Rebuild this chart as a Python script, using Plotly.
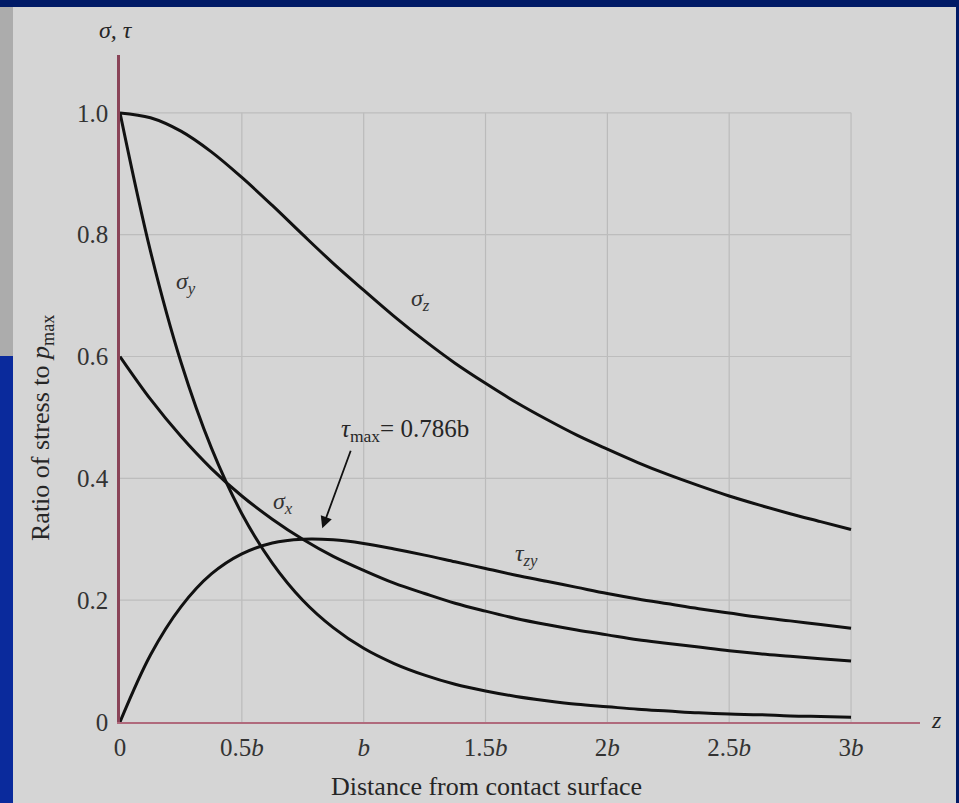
import plotly.graph_objects as go

# ---- data (z in units of b, stress ratio to p_max) ----
z_vals = [0, 0.125, 0.25, 0.375, 0.5, 0.625, 0.75, 0.875, 1.0, 1.125, 1.25, 1.375, 1.5,
          1.625, 1.75, 1.875, 2.0, 2.125, 2.25, 2.375, 2.5, 2.625, 2.75, 2.875, 3.0]
sigma_z = [1.0, 0.992, 0.970, 0.936, 0.894, 0.848, 0.800, 0.753, 0.709, 0.666, 0.626,
           0.589, 0.556, 0.525, 0.497, 0.471, 0.448, 0.426, 0.406, 0.388, 0.371, 0.356,
           0.342, 0.329, 0.316]
sigma_y = [1.0, 0.773, 0.591, 0.450, 0.342, 0.261, 0.200, 0.155, 0.121, 0.096, 0.077,
           0.062, 0.051, 0.042, 0.035, 0.029, 0.025, 0.021, 0.018, 0.015, 0.013, 0.012,
           0.010, 0.009, 0.008]
sigma_x = [0.6, 0.530, 0.469, 0.416, 0.371, 0.333, 0.300, 0.272, 0.249, 0.228, 0.211,
           0.195, 0.182, 0.170, 0.160, 0.151, 0.143, 0.135, 0.129, 0.123, 0.117, 0.112,
           0.108, 0.104, 0.100]
tau_zy = [0.0, 0.110, 0.189, 0.243, 0.276, 0.294, 0.300, 0.299, 0.293, 0.284, 0.274,
          0.263, 0.252, 0.241, 0.231, 0.221, 0.211, 0.202, 0.194, 0.186, 0.179, 0.172,
          0.166, 0.160, 0.154]

x_ticks = [0, 0.5, 1, 1.5, 2, 2.5, 3]
x_tick_text = ["0", "0.5<i>b</i>", "<i>b</i>", "1.5<i>b</i>", "2<i>b</i>", "2.5<i>b</i>", "3<i>b</i>"]
y_ticks = [0, 0.2, 0.4, 0.6, 0.8, 1.0]
y_tick_text = ["0", "0.2", "0.4", "0.6", "0.8", "1.0"]

# ---- layout geometry ----
W, H = 959, 803
ML, MR, MT, MB = 120, 39, 55, 81
PW, PH = W - ML - MR, H - MT - MB
X_MAX, Y_MAX = 3.283, 1.095

def px_x(px):
    return (px - ML) / PW

def px_y(py):
    return (H - MB - py) / PH

SERIF = "Liberation Serif, Times New Roman, serif"
BG = "#d5d5d5"
LINE = "#111111"
TXT = "#262626"

fig = go.Figure()
for ys in (sigma_z, sigma_y, sigma_x, tau_zy):
    fig.add_trace(go.Scatter(x=z_vals, y=ys, mode="lines",
                             line=dict(color=LINE, width=3, shape="spline", smoothing=1.0),
                             hoverinfo="skip", showlegend=False))

shapes = []
# gridlines limited to the chart box 0..3b, 0..1.0
for xv in x_ticks[1:]:
    shapes.append(dict(type="line", xref="x", yref="y", x0=xv, x1=xv, y0=0, y1=max(y_ticks),
                       line=dict(color="#bbbbbb", width=1.2), layer="below"))
for yv in y_ticks[1:]:
    shapes.append(dict(type="line", xref="x", yref="y", x0=0, x1=max(x_ticks), y0=yv, y1=yv,
                       line=dict(color="#bdbdbd", width=1.2), layer="below"))
# frame decorations (slide border)
shapes += [
    dict(type="rect", xref="paper", yref="paper", x0=px_x(0), x1=px_x(W), y0=px_y(7), y1=px_y(0),
         fillcolor="#001a66", line=dict(width=0), layer="below"),
    dict(type="rect", xref="paper", yref="paper", x0=px_x(0), x1=px_x(13), y0=px_y(356), y1=px_y(7),
         fillcolor="#acacac", line=dict(width=0), layer="below"),
    dict(type="rect", xref="paper", yref="paper", x0=px_x(0), x1=px_x(13), y0=px_y(H), y1=px_y(356),
         fillcolor="#0a2a9c", line=dict(width=0), layer="below"),
    dict(type="rect", xref="paper", yref="paper", x0=px_x(956), x1=px_x(W), y0=px_y(H), y1=px_y(0),
         fillcolor="#001a66", line=dict(width=0), layer="below"),
]


def label(text, px, py, size, angle=0, color=TXT):
    return dict(text=text, xref="paper", yref="paper", x=px_x(px), y=px_y(py),
                xanchor="center", yanchor="middle", textangle=angle, showarrow=False,
                font=dict(family=SERIF, size=size, color=color))


annotations = [
    label("<i>σ, τ</i>", 116, 30, 24),
    label("<i>z</i>", 936, 720, 24),
    label("Ratio of stress to <i>p</i><sub>max</sub>", 42, 428, 26, angle=-90),
    label("Distance from contact surface", 486, 786, 26),
    label("<i>σ</i><sub><i>y</i></sub>", 186, 283, 24, color="#333"),
    label("<i>σ</i><sub><i>z</i></sub>", 420, 300, 24, color="#333"),
    label("<i>σ</i><sub><i>x</i></sub>", 283, 503, 24, color="#333"),
    label("<i>τ</i><sub><i>zy</i></sub>", 526, 555, 24, color="#333"),
    label("<i>τ</i><sub>max</sub>= 0.786b", 405, 430, 25),
    dict(text="", xref="x", yref="y", x=0.83, y=0.318,
         showarrow=True, arrowhead=2, arrowsize=1.3, arrowwidth=1.8, arrowcolor="#111",
         ax=29, ay=-79),
]

fig.update_layout(
    width=W, height=H, autosize=False,
    margin=dict(l=ML, r=MR, t=MT, b=MB, pad=0),
    paper_bgcolor=BG, plot_bgcolor=BG,
    shapes=shapes, annotations=annotations,
    xaxis=dict(range=[0, X_MAX], tickvals=x_ticks, ticktext=x_tick_text,
               showgrid=False, zeroline=False, showline=True, linecolor="#b06a7c", linewidth=2,
               ticks="", ticklabelstandoff=2,
               tickfont=dict(family=SERIF, size=25, color="#333")),
    yaxis=dict(range=[0, Y_MAX], tickvals=y_ticks, ticktext=y_tick_text,
               showgrid=False, zeroline=False, showline=True, linecolor="#8a4458", linewidth=2.5,
               ticks="", ticklabelstandoff=4,
               tickfont=dict(family=SERIF, size=25, color="#333")),
)

fig.write_html("out.html")
